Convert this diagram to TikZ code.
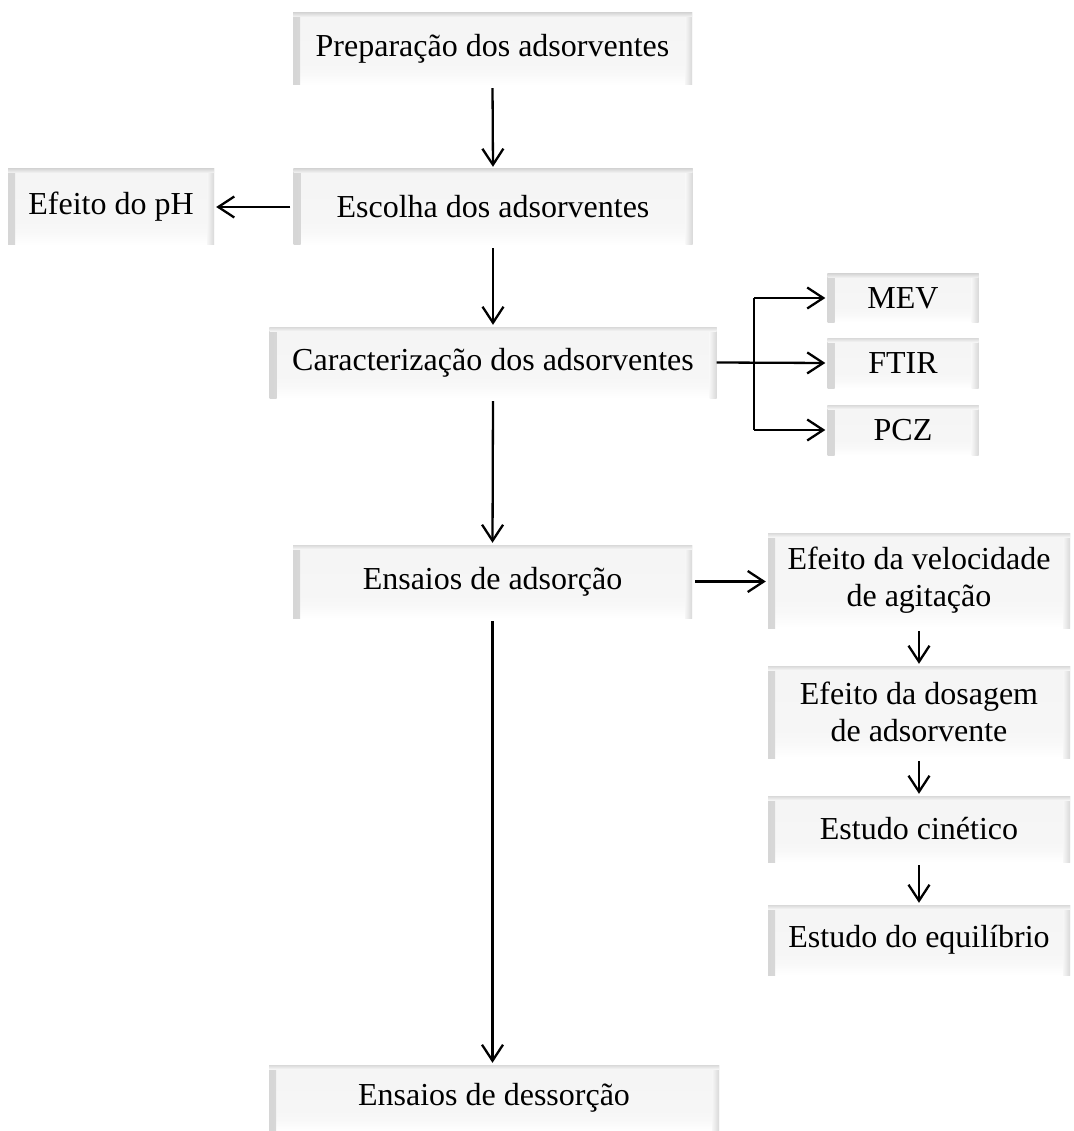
\documentclass[tikz,border=0pt]{standalone}
\usepackage{fontspec}
\setmainfont{Liberation Serif}
\usetikzlibrary{arrows.meta}
\pgfdeclareverticalshading{bevface}{100bp}{color(0bp)=(white); color(25bp)=(white); color(33bp)=(gray!5); color(40bp)=(gray!7); color(75bp)=(gray!8); color(100bp)=(gray!8)}
\tikzset{
  bev/.style n args={2}{shade, shading=bevface, minimum width=#1, minimum height=#2,
    inner sep=0pt, align=center, font=\fontsize{32}{37}\selectfont,
    path picture={
      \shade[left color=gray!32, right color=gray!7]
        (path picture bounding box.north west) rectangle ([xshift=7pt]path picture bounding box.south west);
      \shade[left color=gray!7, right color=gray!30]
        ([xshift=-7pt]path picture bounding box.north east) rectangle (path picture bounding box.south east);
      \shade[top color=gray!30, bottom color=gray!8]
        (path picture bounding box.north west) rectangle ([yshift=-4pt]path picture bounding box.north east);
    }},
  conn/.style={draw, line width=2.3pt},
  arr/.style={conn, -{Straight Barb[length=16pt,width=21pt,line width=2.3pt]}, shorten >=2pt, shorten <=3pt}
}
\begin{document}
\begin{tikzpicture}[x=1pt,y=-1pt]
\useasboundingbox[fill=white] (0,0) rectangle (1073,1131);
\node[bev={399pt}{72pt}] (prep) at (492.5,49) {Preparação dos adsorventes};
\node[bev={399pt}{76pt}] (escolha) at (493,207) {Escolha dos adsorventes};
\node[bev={206pt}{76pt}] (ph) at (111,207) {Efeito do pH};
\node[bev={447pt}{71pt}] (carac) at (493,362.5) {Caracterização dos adsorventes};
\node[bev={151pt}{48pt}] (mev) at (903,298) {MEV};
\node[bev={151pt}{50pt}] (ftir) at (903,363) {FTIR};
\node[bev={151pt}{50pt}] (pcz) at (903,430) {PCZ};
\node[bev={399pt}{73pt}] (ads) at (492.5,581.5) {Ensaios de adsorção};
\node[bev={302pt}{95pt}] (vel) at (919,580.5) {Efeito da velocidade\\de agitação};
\node[bev={302pt}{92pt}] (dos) at (919,712) {Efeito da dosagem\\de adsorvente};
\node[bev={302pt}{66pt}] (cin) at (919,829) {Estudo cinético};
\node[bev={302pt}{70pt}] (eq) at (919,940) {Estudo do equilíbrio};
\node[bev={450pt}{66pt}] (des) at (494,1098) {Ensaios de dessorção};
\coordinate (brx) at (754,363);

\draw[arr] (prep.south) -- (escolha.north);
\draw[arr] (escolha.west) -- (ph.east);
\draw[arr] (escolha.south) -- (carac.north);
\draw[arr] (carac.south) -- (ads.north);
\draw[arr] (ads.south) -- (ads.south |- des.north);
\draw[arr, shorten <=0pt] (carac.east) -- (ftir.west);
\draw[conn] (mev.west -| brx) -- (pcz.west -| brx);
\draw[arr, shorten <=0pt] (mev.west -| brx) -- (mev.west);
\draw[arr, shorten <=0pt] (pcz.west -| brx) -- (pcz.west);
\draw[arr] (ads.east) -- (ads.east -| vel.west);
\draw[arr] (vel.south) -- (dos.north);
\draw[arr] (dos.south) -- (cin.north);
\draw[arr] (cin.south) -- (eq.north);
\end{tikzpicture}
\end{document}
